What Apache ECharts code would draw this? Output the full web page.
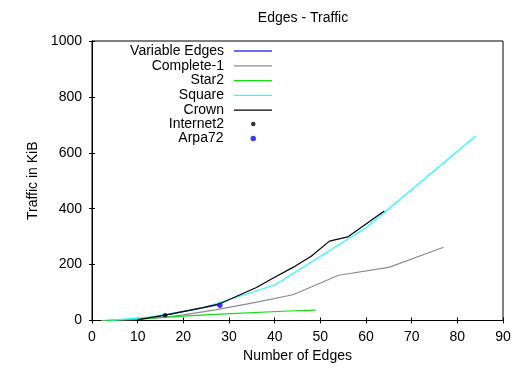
<!DOCTYPE html>
<html><head><meta charset="utf-8">
<script src="https://cdn.jsdelivr.net/npm/echarts@6/dist/echarts.min.js"></script>
<style>html,body{margin:0;padding:0;background:#fff}#c{width:520px;height:370px}</style>
</head><body><div id="c"></div>
<script>
const titleText = 'Edges - Traffic';
const xAxisName = 'Number of Edges';
const yAxisName = 'Traffic in KiB';
const xMin = 0, xMax = 90, xStep = 10;
const yMin = 0, yMax = 1000, yStep = 200;

const seriesNames = ['Variable Edges', 'Complete-1', 'Star2', 'Square', 'Crown', 'Internet2', 'Arpa72'];

const variableEdges = [[10, 3], [16, 19], [24, 44], [28, 58]];
const complete1 = [[2, 0], [5, 1], [9, 3], [14, 8], [20, 20], [27, 38], [35, 62], [44, 92], [54, 162], [65, 190], [77, 262]];
const star2 = [[3, 0], [10, 6], [19, 15], [28, 23], [43, 34], [49, 37]];
const square = [[4, 1], [12, 10], [24, 44], [40, 127], [60, 332], [84, 660]];
const crown = [[10, 3], [16, 19], [24, 45], [28, 60], [36, 118], [40, 155], [44, 190], [48, 230], [52, 284], [56, 299], [60, 345], [64, 392]];
const internet2 = [[16, 19]];
const arpa72 = [[28, 55]];

const FONT = "'Liberation Sans', Arial, sans-serif";
const lineColors = ['#3a3aff', '#8c8c8c', '#11dd11', '#22ffff', '#000000'];
const lineData = [variableEdges, complete1, star2, square, crown];

const chart = echarts.init(document.getElementById('c'), null, {renderer: 'canvas'});

const series = lineData.map((d, i) => ({
  name: seriesNames[i], type: 'line', data: d, symbol: 'none', showSymbol: false,
  lineStyle: {color: lineColors[i], width: 1.2}, itemStyle: {color: lineColors[i]},
  xAxisIndex: 0, yAxisIndex: 0, z: 2 + i, animation: false
}));
series.push({name: seriesNames[5], type: 'scatter', data: internet2, symbol: 'circle', symbolSize: 4.5,
  itemStyle: {color: '#000'}, z: 10, animation: false});
series.push({name: seriesNames[6], type: 'scatter', data: arpa72, symbol: 'circle', symbolSize: 5.5,
  itemStyle: {color: '#0a0aff'}, z: 11, animation: false});

const legendText = {fontFamily: FONT, fontSize: 14, lineHeight: 14, color: '#000'};
const legendCommon = {
  orient: 'vertical', align: 'right', padding: 0, itemGap: 0.8,
  inactiveColor: '#000', selectedMode: false
};

const option = {
  backgroundColor: '#fff',
  animation: false,
  textStyle: {fontFamily: FONT},
  title: {text: titleText, left: 298, top: 6, textAlign: 'center',
    textStyle: {fontFamily: FONT, fontSize: 14, fontWeight: 'normal', color: '#000'}},
  grid: {left: 92, right: 17, top: 41, bottom: 49.5, show: true, borderColor: '#000', borderWidth: 1, backgroundColor: 'transparent'},
  legend: [
    Object.assign({}, legendCommon, {top: 44, right: 248, itemWidth: 38, itemHeight: 1.3,
      textStyle: Object.assign({}, legendText, {padding: [0, 5, 0, 0]}),
      data: seriesNames.slice(0, 5).map(n => ({name: n, icon: 'rect'}))}),
    Object.assign({}, legendCommon, {top: 117, right: 264.5, itemWidth: 4.5, itemHeight: 4.5,
      textStyle: Object.assign({}, legendText, {padding: [0, 22, 0, 0]}),
      data: [{name: seriesNames[5], icon: 'circle'}]}),
    Object.assign({}, legendCommon, {top: 131.5, right: 264, itemWidth: 5.5, itemHeight: 5.5,
      textStyle: Object.assign({}, legendText, {padding: [0, 22, 0, 0]}),
      data: [{name: seriesNames[6], icon: 'circle'}]})
  ],
  xAxis: [
    {type: 'value', min: xMin, max: xMax, interval: xStep, position: 'bottom',
      name: xAxisName, nameLocation: 'middle', nameGap: 29,
      nameTextStyle: {fontFamily: FONT, fontSize: 14, color: '#000'},
      axisLine: {show: true, lineStyle: {color: '#000', width: 1}},
      axisTick: {show: true, inside: true, length: 3, lineStyle: {color: '#000'}},
      axisLabel: {fontFamily: FONT, fontSize: 14, color: '#000', margin: 10, formatter: v => String(v)},
      splitLine: {show: false}},
    {type: 'value', min: xMin, max: xMax, interval: xStep, position: 'top',
      axisLine: {show: true, lineStyle: {color: '#000', width: 1}},
      axisTick: {show: true, inside: true, length: 3, lineStyle: {color: '#000'}},
      axisLabel: {show: false}, splitLine: {show: false}}
  ],
  yAxis: [
    {type: 'value', min: yMin, max: yMax, interval: yStep, position: 'left',
      name: yAxisName, nameLocation: 'middle', nameGap: 49,
      nameTextStyle: {fontFamily: FONT, fontSize: 14, color: '#000'},
      axisLine: {show: true, lineStyle: {color: '#000', width: 1}},
      axisTick: {show: true, inside: true, length: 3, lineStyle: {color: '#000'}},
      axisLabel: {fontFamily: FONT, fontSize: 14, color: '#000', margin: 10, formatter: v => String(v)},
      splitLine: {show: false}},
    {type: 'value', min: yMin, max: yMax, interval: yStep, position: 'right',
      axisLine: {show: true, lineStyle: {color: '#000', width: 1}},
      axisTick: {show: true, inside: true, length: 3, lineStyle: {color: '#000'}},
      axisLabel: {show: false}, splitLine: {show: false}}
  ],
  series: series
};
chart.setOption(option);
</script>
</body></html>
